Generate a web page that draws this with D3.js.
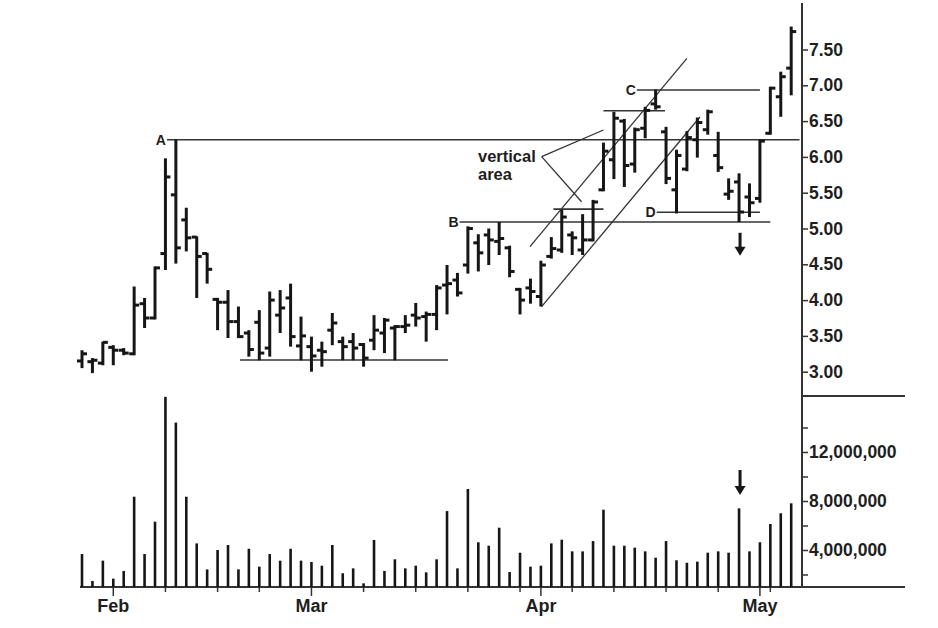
<!DOCTYPE html>
<html><head><meta charset="utf-8">
<script src="https://cdn.jsdelivr.net/npm/d3@7"></script>
<style>
body{margin:0;background:#fff}
svg{display:block}
text{font-family:"Liberation Sans",Arial,sans-serif;font-weight:bold;fill:#1e1e1e}
</style>
</head><body><svg id="chart" width="938" height="628"></svg>
<script>
// ---------- data ----------
const dates = [
 "2009-01-28","2009-01-29","2009-01-30",
 "2009-02-02","2009-02-03","2009-02-04","2009-02-05","2009-02-06","2009-02-09","2009-02-10","2009-02-11","2009-02-12","2009-02-13",
 "2009-02-17","2009-02-18","2009-02-19","2009-02-20","2009-02-23","2009-02-24","2009-02-25","2009-02-26","2009-02-27",
 "2009-03-02","2009-03-03","2009-03-04","2009-03-05","2009-03-06","2009-03-09","2009-03-10","2009-03-11","2009-03-12","2009-03-13",
 "2009-03-16","2009-03-17","2009-03-18","2009-03-19","2009-03-20","2009-03-23","2009-03-24","2009-03-25","2009-03-26","2009-03-27",
 "2009-03-30","2009-03-31",
 "2009-04-01","2009-04-02","2009-04-03","2009-04-06","2009-04-07","2009-04-08","2009-04-09","2009-04-13","2009-04-14","2009-04-15",
 "2009-04-16","2009-04-17","2009-04-20","2009-04-21","2009-04-22","2009-04-23","2009-04-24","2009-04-27","2009-04-28","2009-04-29","2009-04-30",
 "2009-05-01","2009-05-04","2009-05-05","2009-05-06"
];
const openP  = [3.15,3.14,3.12,3.34,3.30,3.25,3.95,3.75,4.65,5.47,5.12,4.88,4.65,4.01,3.97,3.70,3.54,3.69,3.33,3.79,4.03,3.36,3.35,3.30,3.58,3.42,3.42,3.38,3.44,3.54,3.61,3.63,3.79,3.77,3.80,4.21,4.28,4.49,4.80,4.91,4.82,4.73,4.15,4.17,4.05,4.61,4.70,4.91,4.70,4.84,5.54,5.96,6.50,5.90,6.40,6.74,6.35,5.54,5.83,6.24,6.38,6.02,5.48,5.65,5.44,5.42,6.33,6.84,7.24];
const highP  = [3.30,3.19,3.42,3.37,3.33,4.19,4.03,4.47,5.98,6.24,5.29,4.89,4.66,4.03,4.14,3.91,3.58,3.86,4.12,4.14,4.23,3.77,3.49,3.42,3.82,3.49,3.54,3.40,3.79,3.75,3.65,3.79,3.96,3.84,4.21,4.49,4.38,5.03,4.92,5.00,5.09,4.76,4.17,4.30,4.55,4.88,5.26,4.96,5.20,5.40,6.20,6.63,6.53,6.41,6.70,6.94,6.42,6.10,6.36,6.55,6.66,6.35,5.70,5.77,5.63,6.24,6.98,7.19,7.82];
const lowP   = [3.05,2.98,3.09,3.09,3.23,3.23,3.61,3.73,4.42,4.51,4.68,4.03,4.23,3.58,3.47,3.47,3.21,3.16,3.21,3.54,3.35,3.16,3.00,3.07,3.37,3.16,3.16,3.07,3.30,3.26,3.16,3.54,3.63,3.42,3.58,3.80,4.05,4.37,4.40,4.49,4.63,4.32,3.80,3.95,3.91,4.58,4.66,4.63,4.63,4.82,5.52,5.69,5.58,5.78,6.26,6.66,5.62,5.21,5.80,5.99,6.31,5.79,5.40,5.09,5.16,5.36,6.31,6.56,6.86];
const closeP = [3.25,3.16,3.41,3.30,3.26,3.93,3.75,4.45,5.72,4.73,4.87,4.61,4.43,3.97,3.70,3.49,3.31,3.26,4.00,3.89,3.49,3.50,3.22,3.28,3.68,3.35,3.33,3.19,3.58,3.72,3.63,3.65,3.75,3.80,4.17,4.23,4.10,5.00,4.66,4.84,4.86,4.40,4.00,4.12,4.49,4.72,5.16,4.87,4.84,5.37,6.08,6.54,5.88,6.38,6.65,6.70,5.70,6.02,6.27,6.48,6.63,5.85,5.52,5.23,5.36,6.22,6.96,7.12,7.75];
const volume = [3.67,1.47,3.13,1.66,2.29,8.35,3.67,6.31,16.5,14.4,8.35,4.54,2.42,4.0,4.41,2.42,4.1,2.64,3.67,3.13,4.1,3.13,3.02,2.72,4.41,2.1,2.5,1.28,4.82,2.29,3.24,2.5,2.72,2.18,3.24,7.18,2.5,8.98,4.63,4.35,5.82,2.2,3.78,2.64,2.72,4.54,4.84,3.89,3.89,4.73,7.29,4.35,4.35,4.19,3.89,3.37,4.73,3.16,2.96,3.05,3.78,3.89,3.78,7.4,3.89,4.63,6.12,7.0,7.81].map(v => v * 1e6);

const priceTicks  = [3.0,3.5,4.0,4.5,5.0,5.5,6.0,6.5,7.0,7.5];
const volumeTicks = [2e6,4e6,6e6,8e6,10e6,12e6,14e6];
const volumeLabelTicks = [4e6,8e6,12e6];
const monthNames = ["Jan","Feb","Mar","Apr","May"];

// annotation lines: [index0, price0, index1, price1]
const levelLines = [
  {label:"A", i0:8.15, i1:68.8, p:6.24},
  {label:"B", i0:36.2, i1:66.0, p:5.09},
  {label:"",  i0:15.15,i1:35.1, p:3.163},
  {label:"C", i0:53.2, i1:65.0, p:6.935},
  {label:"D", i0:55.1, i1:65.0, p:5.226},
  {label:"",  i0:50.0, i1:55.9, p:6.645},
  {label:"",  i0:45.2, i1:50.0, p:5.27}
];
const channelLines = [
  [42.95,4.746,58.0,7.377],
  [44.07,3.908,59.25,6.557]
];
const pointerLines = [
  [44.07,6.003,50.0,6.376],
  [44.07,6.003,47.9,5.374]
];
const noteLines = ["vertical","area"];
const arrowBar = 63;

// ---------- scales ----------
const svg = d3.select("#chart");
const n = dates.length;
const parse = d3.timeParse("%Y-%m-%d");
const days = dates.map(parse);
const x = d3.scaleLinear().domain([0, n-1]).range([82, 791.2]);
const yP = d3.scaleLinear().domain([3, 7.5]).range([371.7, 49.5]);
const yV = d3.scaleLinear().domain([0.98e6, 16.57e6]).range([587, 396]);
const axisX = 802, baseY = 587, paneSep = 396, rightEnd = 905;
const ink = "#161616";

// ---------- frame ----------
svg.append("line").attr("x1",axisX).attr("x2",axisX).attr("y1",3).attr("y2",baseY)
  .attr("stroke","#333").attr("stroke-width",2);
svg.append("line").attr("x1",axisX).attr("x2",rightEnd).attr("y1",paneSep).attr("y2",paneSep)
  .attr("stroke","#333").attr("stroke-width",2);
svg.append("line").attr("x1",80).attr("x2",rightEnd).attr("y1",baseY).attr("y2",baseY)
  .attr("stroke","#333").attr("stroke-width",2);

// price axis
const pAxis = svg.append("g").attr("transform",`translate(${axisX},0)`)
  .call(d3.axisRight(yP).tickValues(priceTicks).tickFormat(d3.format(".2f")).tickSize(6).tickPadding(1));
pAxis.select(".domain").remove();
pAxis.selectAll("line").attr("stroke","#333").attr("stroke-width",1.5);
pAxis.selectAll("text").attr("font-size",17.5).attr("fill","#1e1e1e")
  .style("font-family",'"Liberation Sans",Arial,sans-serif').style("font-weight","bold");

// volume axis
const vAxis = svg.append("g").attr("transform",`translate(${axisX},0)`)
  .call(d3.axisRight(yV).tickValues(volumeTicks)
    .tickFormat(d => volumeLabelTicks.includes(d) ? d3.format(",")(d) : "").tickSize(6).tickPadding(1));
vAxis.select(".domain").remove();
vAxis.selectAll("line").attr("stroke","#333").attr("stroke-width",1.5);
vAxis.selectAll("text").attr("font-size",17.5).attr("fill","#1e1e1e")
  .style("font-family",'"Liberation Sans",Arial,sans-serif').style("font-weight","bold");

// date axis ticks
const dateTicks = [];
days.forEach((d,i) => {
  const monthStart = i > 0 && d.getMonth() !== days[i-1].getMonth();
  const weekStart  = i > 0 && d.getDay() < days[i-1].getDay();
  if (monthStart) dateTicks.push({i, major:true, label:monthNames[d.getMonth()]});
  else if (weekStart) dateTicks.push({i, major:false});
});
svg.append("g").selectAll("line").data(dateTicks).join("line")
  .attr("x1",d=>x(d.i)).attr("x2",d=>x(d.i))
  .attr("y1",baseY).attr("y2",d=>baseY + (d.major ? 9 : 5))
  .attr("stroke","#333").attr("stroke-width",1.5);
svg.append("g").selectAll("text").data(dateTicks.filter(d=>d.major)).join("text")
  .attr("x",d=>x(d.i)).attr("y",612).attr("text-anchor","middle").attr("font-size",18)
  .text(d=>d.label);

// ---------- volume bars ----------
svg.append("g").selectAll("line").data(volume).join("line")
  .attr("x1",(d,i)=>x(i)).attr("x2",(d,i)=>x(i))
  .attr("y1",baseY).attr("y2",d=>yV(d))
  .attr("stroke",ink).attr("stroke-width",2.6);

// ---------- annotation lines ----------
const ann = svg.append("g");
levelLines.forEach(l => {
  ann.append("line").attr("x1",x(l.i0)).attr("x2",x(l.i1)).attr("y1",yP(l.p)).attr("y2",yP(l.p))
    .attr("stroke","#333").attr("stroke-width",1.6);
  if (l.label) ann.append("text").attr("x",x(l.i0)-1).attr("y",yP(l.p)+5)
    .attr("text-anchor","end").attr("font-size",14).text(l.label);
});
channelLines.concat(pointerLines).forEach(c => {
  ann.append("line").attr("x1",x(c[0])).attr("y1",yP(c[1])).attr("x2",x(c[2])).attr("y2",yP(c[3]))
    .attr("stroke","#333").attr("stroke-width",1.3);
});
ann.selectAll("text.note").data(noteLines).join("text").attr("class","note")
  .attr("x",x(37.97)).attr("y",(d,i)=>yP(5.93) + i*18.5)
  .attr("font-size",16.5).text(d=>d);

// ---------- OHLC bars ----------
const bars = svg.append("g").attr("stroke",ink).attr("stroke-width",3);
dates.forEach((d,i) => {
  const cx = x(i);
  bars.append("line").attr("x1",cx).attr("x2",cx).attr("y1",yP(highP[i])).attr("y2",yP(lowP[i]));
  bars.append("line").attr("x1",cx-5).attr("x2",cx).attr("y1",yP(openP[i])).attr("y2",yP(openP[i]));
  bars.append("line").attr("x1",cx).attr("x2",cx+5).attr("y1",yP(closeP[i])).attr("y2",yP(closeP[i]));
});

// ---------- arrows ----------
function arrow(cx, yTop, yTip) {
  const g = svg.append("g");
  g.append("line").attr("x1",cx).attr("x2",cx).attr("y1",yTop).attr("y2",yTip-6)
    .attr("stroke",ink).attr("stroke-width",3);
  g.append("path").attr("d",`M${cx-5.5},${yTip-9} L${cx+5.5},${yTip-9} L${cx},${yTip} Z`).attr("fill",ink);
}
arrow(x(arrowBar)+1, yP(4.94), yP(4.62));
arrow(x(arrowBar)+1, yV(10.53e6), yV(8.49e6));
</script>
</body></html>
